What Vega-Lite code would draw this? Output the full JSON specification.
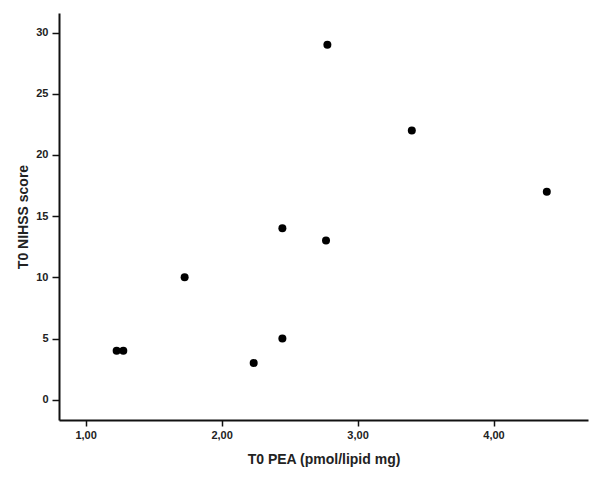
{
  "$schema": "https://vega.github.io/schema/vega-lite/v6.json",
  "autosize": {"type": "none"},
  "padding": {"left": 59, "top": 13, "right": 12, "bottom": 60},
  "width": 529,
  "height": 407,
  "background": "white",
  "data": {"values": [
    {"pea": 1.228, "nihss": 4},
    {"pea": 1.277, "nihss": 4},
    {"pea": 1.728, "nihss": 10},
    {"pea": 2.236, "nihss": 3},
    {"pea": 2.447, "nihss": 14},
    {"pea": 2.447, "nihss": 5},
    {"pea": 2.768, "nihss": 13},
    {"pea": 2.778, "nihss": 29},
    {"pea": 3.399, "nihss": 22},
    {"pea": 4.392, "nihss": 17}
  ]},
  "mark": {"type": "point", "filled": true, "shape": "circle", "size": 64, "color": "black", "opacity": 1},
  "encoding": {
    "x": {
      "field": "pea", "type": "quantitative",
      "scale": {"domain": [0.804, 4.695], "nice": false, "zero": false},
      "axis": {
        "values": [1, 2, 3, 4],
        "labelExpr": "replace(format(datum.value, '.2f'), '.', ',')",
        "title": "T0 PEA (pmol/lipid mg)",
        "grid": false,
        "domainColor": "#111", "domainWidth": 2,
        "tickColor": "#111", "tickWidth": 1.5, "tickSize": 6,
        "labelFont": "Liberation Sans", "labelFontWeight": "bold", "labelFontSize": 11, "labelColor": "#222", "labelPadding": 3,
        "titleFont": "Liberation Sans", "titleFontWeight": "bold", "titleFontSize": 14, "titleColor": "#222", "titlePadding": 12
      }
    },
    "y": {
      "field": "nihss", "type": "quantitative",
      "scale": {"domain": [-1.66, 31.6], "nice": false, "zero": false},
      "axis": {
        "values": [0, 5, 10, 15, 20, 25, 30],
        "title": "T0 NIHSS score",
        "grid": false,
        "domainColor": "#111", "domainWidth": 2,
        "tickColor": "#111", "tickWidth": 1.5, "tickSize": 7,
        "labelFont": "Liberation Sans", "labelFontWeight": "bold", "labelFontSize": 11, "labelColor": "#222", "labelPadding": 4,
        "titleFont": "Liberation Sans", "titleFontWeight": "bold", "titleFontSize": 14, "titleColor": "#222", "titlePadding": 5
      }
    }
  },
  "config": {"view": {"stroke": null}}
}
